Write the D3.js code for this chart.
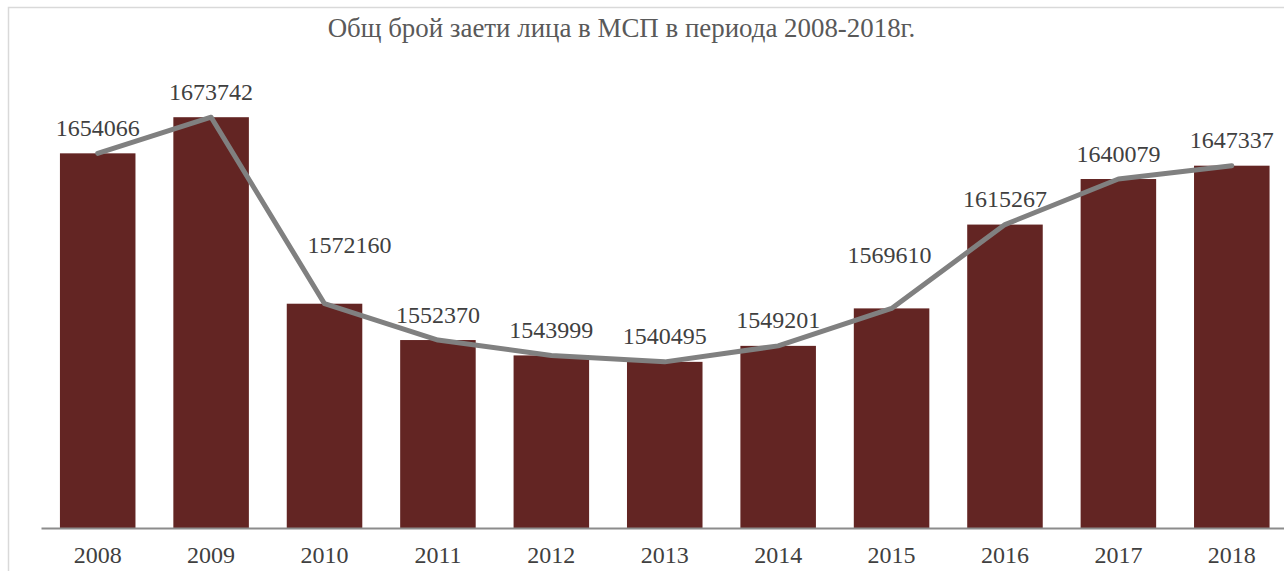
<!DOCTYPE html>
<html>
<head>
<meta charset="utf-8">
<script src="https://cdn.jsdelivr.net/npm/d3@7"></script>
<style>
  html, body { margin: 0; padding: 0; background: #ffffff; }
  svg { display: block; }
</style>
</head>
<body>
<svg id="chart" width="1284" height="571"></svg>
<script>
const years = ["2008","2009","2010","2011","2012","2013","2014","2015","2016","2017","2018"];
const employed = [1654066,1673742,1572160,1552370,1543999,1540495,1549201,1569610,1615267,1640079,1647337];
const title = "Общ брой заети лица в МСП в периода 2008-2018г.";

// layout-only tweaks for manually moved data labels (dx, dy in px)
const labelNudge = { "2010": [25, -33], "2015": [-2, -28] };

const svg = d3.select("#chart");
const serif = "'Liberation Serif', 'Times New Roman', serif";

// chart frame border
svg.append("rect")
  .attr("x", 8.5).attr("y", 7.5)
  .attr("width", 1400).attr("height", 700)
  .attr("fill", "#ffffff")
  .attr("stroke", "#d9d9d9").attr("stroke-width", 1.5);

const x = d3.scaleBand()
  .domain(years)
  .range([41, 1288.5])
  .paddingInner(0.334)
  .paddingOuter(0.167);

const y = d3.scaleLinear()
  .domain([1450000, 1700000])
  .range([528, 69]);

// title
svg.append("text")
  .attr("x", 621.5).attr("y", 37)
  .attr("text-anchor", "middle")
  .attr("font-family", serif)
  .attr("font-size", 26.9)
  .attr("fill", "#595959")
  .text(title);

// bars
svg.append("g").selectAll("rect")
  .data(years)
  .join("rect")
  .attr("x", d => x(d))
  .attr("width", x.bandwidth())
  .attr("y", (d, i) => y(employed[i]))
  .attr("height", (d, i) => y(1450000) - y(employed[i]))
  .attr("fill", "#632523");

// axis
const axis = svg.append("g")
  .attr("transform", `translate(0,${y(1450000)})`)
  .call(d3.axisBottom(x).tickSize(0).tickPadding(18));
axis.select(".domain").attr("stroke", "#8c8c8c").attr("stroke-width", 2);
axis.selectAll("text")
  .attr("font-family", serif)
  .attr("font-size", 24)
  .attr("fill", "#404040");

// data labels
svg.append("g").selectAll("text")
  .data(years)
  .join("text")
  .attr("x", d => x(d) + x.bandwidth() / 2 + (labelNudge[d] ? labelNudge[d][0] : 0))
  .attr("y", (d, i) => y(employed[i]) - 17.5 + (labelNudge[d] ? labelNudge[d][1] : 0))
  .attr("text-anchor", "middle")
  .attr("font-family", serif)
  .attr("font-size", 24)
  .attr("fill", "#404040")
  .text((d, i) => employed[i]);

// line
const line = d3.line()
  .x(d => x(d[0]) + x.bandwidth() / 2)
  .y(d => y(d[1]));
svg.append("path")
  .datum(years.map((yr, i) => [yr, employed[i]]))
  .attr("d", line)
  .attr("fill", "none")
  .attr("stroke", "#808080")
  .attr("stroke-width", 5)
  .attr("stroke-linejoin", "round")
  .attr("stroke-linecap", "round");
</script>
</body>
</html>
